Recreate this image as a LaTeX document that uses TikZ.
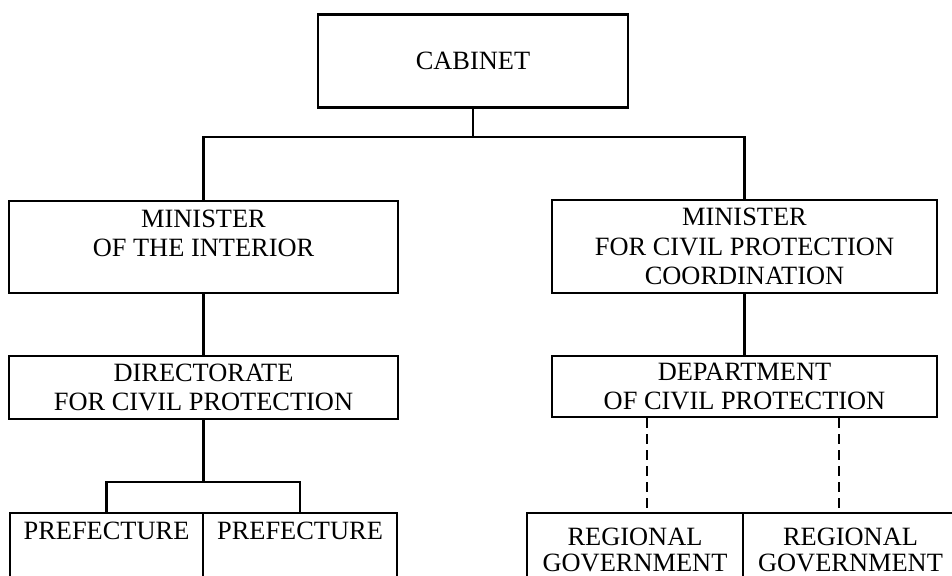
\documentclass[tikz,border=0pt]{standalone}
\usepackage{fontspec}
\setmainfont{Liberation Serif}

\tikzset{
  orgbox/.style={draw,line width=1.1pt,inner sep=0pt,align=center,
    font=\fontsize{13.2}{14.6}\selectfont},
  link/.style={line width=1.1pt},
  dashlink/.style={line width=1.1pt,dash pattern=on 5pt off 3pt}
}

\begin{document}
\begin{tikzpicture}[x=0.5pt,y=-0.5pt]
\useasboundingbox (0,0) rectangle (952,575);
\clip (0,0) rectangle (952,575);
% top
\node[orgbox,minimum width=155pt,minimum height=46.5pt] (cabinet) at (473,61) {CABINET};
\coordinate (split) at (473,137);
% left branch
\node[orgbox,minimum width=194.5pt,minimum height=46pt] (minint) at (203.5,247) {MINISTER\\OF THE INTERIOR\\[-5pt]\strut};
\node[orgbox,minimum width=194.5pt,minimum height=31.5pt] (dir) at (203.5,387.5) {DIRECTORATE\\FOR CIVIL PROTECTION};
\coordinate (prefsplit) at (203.5,482);
\node[orgbox,minimum width=96.5pt,minimum height=32.5pt] (pref1) at (106.5,545.5) {PREFECTURE\\[-4pt]\strut};
\node[orgbox,minimum width=97pt,minimum height=32.5pt] (pref2) at (300,545.5) {PREFECTURE\\[-4pt]\strut};
% right branch
\node[orgbox,minimum width=192.5pt,minimum height=46.5pt] (mincp) at (744.5,246.5) {MINISTER\\FOR CIVIL PROTECTION\\COORDINATION};
\node[orgbox,minimum width=192.5pt,minimum height=30.5pt] (dept) at (744.5,386.5) {DEPARTMENT\\OF CIVIL PROTECTION};
\node[orgbox,minimum width=108pt,minimum height=37pt] (reg1) at (635,550) {REGIONAL\\[-1.5pt]GOVERNMENT};
\node[orgbox,minimum width=107.5pt,minimum height=37pt] (reg2) at (850.5,550) {REGIONAL\\[-1.5pt]GOVERNMENT};
% links
\draw[link] (cabinet.south) -- (split);
\draw[link] (minint.north) |- (split) -| (mincp.north);
\draw[link] (minint.south) -- (dir.north);
\draw[link] (mincp.south) -- (dept.north);
\draw[link] (dir.south) -- (prefsplit);
\draw[link] (pref1.north) |- (prefsplit) -| (pref2.north);
\coordinate (r1) at ([xshift=6pt]reg1.north);
\coordinate (r2) at ([xshift=-5.75pt]reg2.north);
\draw[dashlink] (r1 |- dept.south) -- (r1);
\draw[dashlink] (r2 |- dept.south) -- (r2);
\end{tikzpicture}
\end{document}
